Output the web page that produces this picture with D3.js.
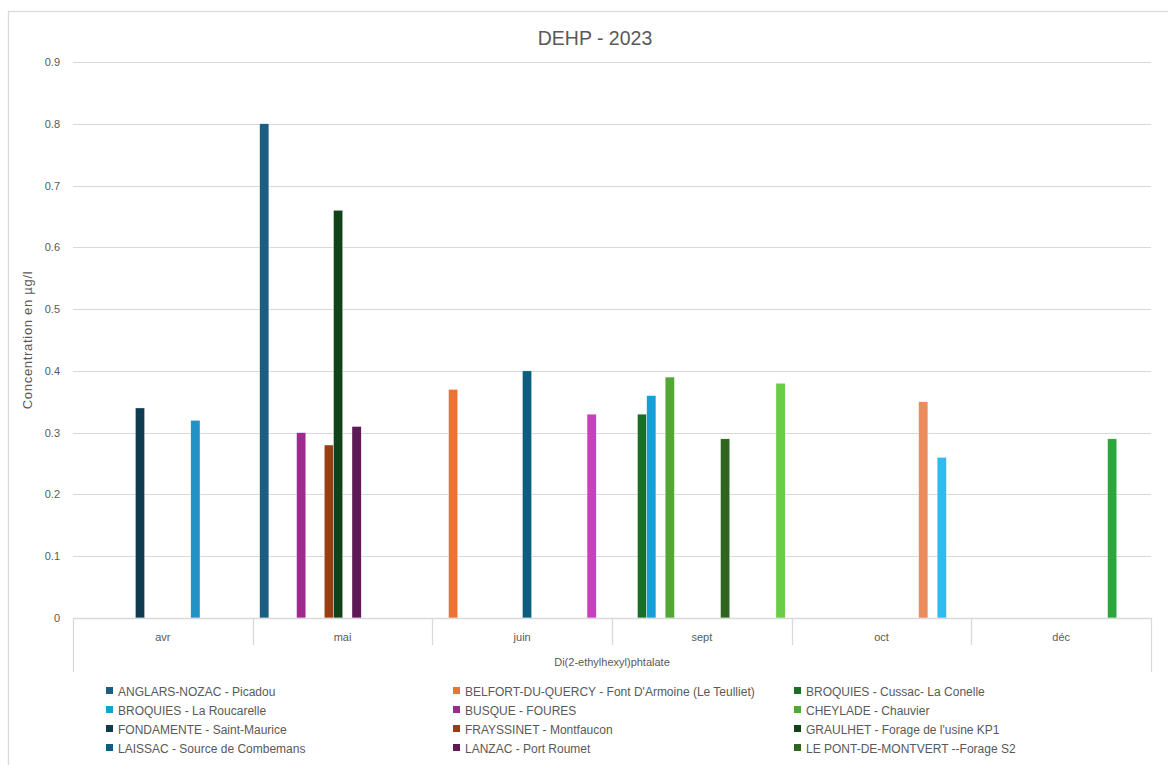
<!DOCTYPE html>
<html>
<head>
<meta charset="utf-8">
<script src="https://cdn.jsdelivr.net/npm/d3@7"></script>
<style>
  body { margin: 0; background: #fff; }
  text { font-family: "Liberation Sans", Arial, sans-serif; fill: #595959; }
</style>
</head>
<body>
<div id="chart"></div>
<script>
var width = 1168,
    height = 765;

// categories (months)
var months = ["avr", "mai", "juin", "sept", "oct", "déc"];

// series names, Excel legend order (last six are cut off below the picture)
var stations = [
  "ANGLARS-NOZAC - Picadou",
  "BELFORT-DU-QUERCY - Font D'Armoine  (Le Teulliet)",
  "BROQUIES - Cussac- La Conelle",
  "BROQUIES - La Roucarelle",
  "BUSQUE - FOURES",
  "CHEYLADE - Chauvier",
  "FONDAMENTE - Saint-Maurice",
  "FRAYSSINET - Montfaucon",
  "GRAULHET - Forage de l'usine KP1",
  "LAISSAC - Source de Combemans",
  "LANZAC - Port Roumet",
  "LE PONT-DE-MONTVERT --Forage S2",
  null, null, null, null, null, null
];

var colors = [
  "#1b5e82", "#ea7433", "#1b6e28", "#16a0d8", "#a0298e", "#52a832",
  "#0f3a50", "#983e12", "#12421a", "#0b5e7e", "#5e1a56", "#2f6520",
  "#2390c6", "#ec8c5c", "#2aa63c", "#2ebbf0", "#c840bc", "#6acc46"
];

// values per series, one per month (avr, mai, juin, sept, oct, déc)
var values = [
  [null, 0.80, null, null, null, null],
  [null, null, 0.37, null, null, null],
  [null, null, null, 0.33, null, null],
  [null, null, null, 0.36, null, null],
  [null, 0.30, null, null, null, null],
  [null, null, null, 0.39, null, null],
  [0.34, null, null, null, null, null],
  [null, 0.28, null, null, null, null],
  [null, 0.66, null, null, null, null],
  [null, null, 0.40, null, null, null],
  [null, 0.31, null, null, null, null],
  [null, null, null, 0.29, null, null],
  [0.32, null, null, null, null, null],
  [null, null, null, null, 0.35, null],
  [null, null, null, null, null, 0.29],
  [null, null, null, null, 0.26, null],
  [null, null, 0.33, null, null, null],
  [null, null, null, 0.38, null, null]
];

var yTicks = [0, 0.1, 0.2, 0.3, 0.4, 0.5, 0.6, 0.7, 0.8, 0.9];

var chartTitle = "DEHP - 2023",
    yTitle = "Concentration en µg/l",
    groupLabel = "Di(2-ethylhexyl)phtalate";

var plot = {left: 73, right: 1151, top: 62, bottom: 618};

var svg = d3.select("#chart").append("svg")
    .attr("width", width)
    .attr("height", height);

// chart area border
svg.append("rect")
    .attr("x", 8.5)
    .attr("y", 11.5)
    .attr("width", width + 20)
    .attr("height", height + 20)
    .attr("fill", "#fff")
    .attr("stroke", "#d9d9d9")
    .attr("stroke-width", 1.3);

var x = d3.scaleBand()
    .domain(months)
    .range([plot.left, plot.right]);

var xInner = d3.scaleBand()
    .domain(d3.range(stations.length))
    .range([7, x.bandwidth() - 6.5]);

var y = d3.scaleLinear()
    .domain([0, 0.9])
    .range([plot.bottom, plot.top]);

// gridlines
svg.append("g")
    .attr("class", "grid")
  .selectAll("line")
    .data(yTicks)
  .enter().append("line")
    .attr("x1", plot.left)
    .attr("x2", plot.right)
    .attr("y1", function(d) { return Math.round(y(d)) + 0.5; })
    .attr("y2", function(d) { return Math.round(y(d)) + 0.5; })
    .attr("stroke", "#d9d9d9")
    .attr("stroke-width", 1.2);

// y axis labels
var yAxis = d3.axisLeft(y)
    .tickValues(yTicks)
    .tickSize(0)
    .tickPadding(0)
    .tickFormat(function(d) { return d === 0 ? "0" : d3.format(".1f")(d); });

var yg = svg.append("g")
    .attr("transform", "translate(60,0)")
    .call(yAxis);
yg.select(".domain").remove();
yg.selectAll("text")
    .style("font-size", "11px")
    .attr("fill", "#595959");

svg.append("text")
    .attr("transform", "translate(32," + (plot.top + plot.bottom) / 2 + ")rotate(-90)")
    .attr("text-anchor", "middle")
    .style("font-size", "13px")
    .style("letter-spacing", "0.7px")
    .text(yTitle);

// bars
var bars = [];
values.forEach(function(row, s) {
  row.forEach(function(v, m) {
    if (v != null) bars.push({series: s, month: months[m], value: v});
  });
});

svg.append("g")
    .attr("class", "bars")
  .selectAll("rect")
    .data(bars)
  .enter().append("rect")
    .attr("x", function(d) { return x(d.month) + xInner(d.series); })
    .attr("width", xInner.bandwidth())
    .attr("y", function(d) { return y(d.value); })
    .attr("height", function(d) { return y(0) - y(d.value); })
    .attr("fill", function(d) { return colors[d.series]; })
    .attr("stroke", "#fff")
    .attr("stroke-width", 0.4);

// category axis (two levels)
var axis = svg.append("g").attr("class", "cat-axis");
axis.append("line")
    .attr("x1", plot.left).attr("x2", plot.right)
    .attr("y1", plot.bottom + 0.5).attr("y2", plot.bottom + 0.5)
    .attr("stroke", "#d9d9d9").attr("stroke-width", 1.3);

var bounds = months.map(function(m) { return x(m); }).concat([plot.right]);
axis.selectAll("line.sep")
    .data(bounds)
  .enter().append("line")
    .attr("class", "sep")
    .attr("x1", function(d) { return Math.round(d) + 0.5; })
    .attr("x2", function(d) { return Math.round(d) + 0.5; })
    .attr("y1", plot.bottom)
    .attr("y2", function(d, i) { return (i === 0 || i === bounds.length - 1) ? 672 : 645; })
    .attr("stroke", "#d9d9d9").attr("stroke-width", 1.3);

axis.selectAll("text.month")
    .data(months)
  .enter().append("text")
    .attr("class", "month")
    .attr("x", function(d) { return x(d) + x.bandwidth() / 2; })
    .attr("y", 641)
    .attr("text-anchor", "middle")
    .style("font-size", "11px")
    .text(function(d) { return d; });

axis.append("text")
    .attr("x", (plot.left + plot.right) / 2)
    .attr("y", 666)
    .attr("text-anchor", "middle")
    .style("font-size", "11px")
    .text(groupLabel);

// title
svg.append("text")
    .attr("x", 595)
    .attr("y", 45)
    .attr("text-anchor", "middle")
    .style("font-size", "19.5px")
    .text(chartTitle);

// legend, 3 columns filled row by row
var colX = [106, 453, 794];
var legendItems = stations
    .map(function(name, i) { return {name: name, i: i}; })
    .filter(function(d) { return d.name; });

var legend = svg.append("g").attr("class", "legend")
  .selectAll("g")
    .data(legendItems)
  .enter().append("g")
    .attr("transform", function(d) {
      return "translate(" + colX[d.i % 3] + "," + (691 + Math.floor(d.i / 3) * 19) + ")";
    });

legend.append("rect")
    .attr("x", 0).attr("y", -4)
    .attr("width", 7).attr("height", 7)
    .attr("fill", function(d) { return colors[d.i]; });

legend.append("text")
    .attr("x", 12)
    .attr("y", 4.5)
    .style("font-size", "12px")
    .text(function(d) { return d.name; });
</script>
</body>
</html>
